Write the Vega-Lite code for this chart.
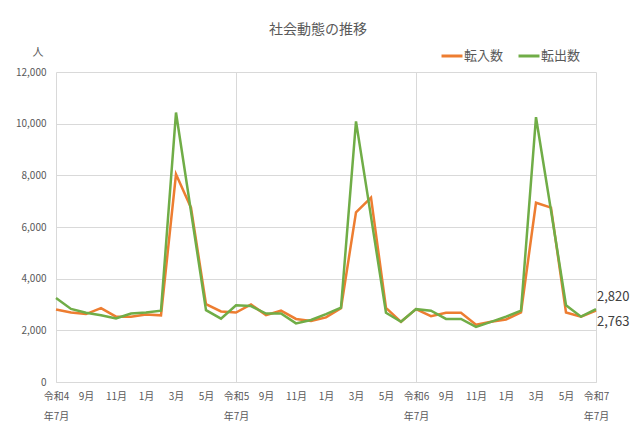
{
  "$schema": "https://vega.github.io/schema/vega-lite/v6.json",
  "autosize": {"type": "none"},
  "padding": {"left": 56, "top": 72, "right": 40, "bottom": 58},
  "width": 540,
  "height": 310,
  "background": "white",
  "title": {
    "text": "社会動態の推移",
    "anchor": "middle",
    "dx": -8,
    "fontSize": 14,
    "fontWeight": "normal",
    "color": "#595959",
    "font": "Noto Sans CJK JP",
    "offset": 7
  },
  "data": {
    "values": [
      {"月": "2022-07", "転入数": 2810, "転出数": 3250},
      {"月": "2022-08", "転入数": 2690, "転出数": 2830},
      {"月": "2022-09", "転入数": 2630, "転出数": 2680},
      {"月": "2022-10", "転入数": 2860, "転出数": 2580},
      {"月": "2022-11", "転入数": 2530, "転出数": 2460},
      {"月": "2022-12", "転入数": 2530, "転出数": 2650},
      {"月": "2023-01", "転入数": 2610, "転出数": 2690},
      {"月": "2023-02", "転入数": 2580, "転出数": 2760},
      {"月": "2023-03", "転入数": 8040, "転出数": 10430},
      {"月": "2023-04", "転入数": 6750, "転出数": 6600},
      {"月": "2023-05", "転入数": 3010, "転出数": 2780},
      {"月": "2023-06", "転入数": 2730, "転出数": 2450},
      {"月": "2023-07", "転入数": 2690, "転出数": 2970},
      {"月": "2023-08", "転入数": 3000, "転出数": 2940},
      {"月": "2023-09", "転入数": 2590, "転出数": 2650},
      {"月": "2023-10", "転入数": 2760, "転出数": 2650},
      {"月": "2023-11", "転入数": 2440, "転出数": 2270},
      {"月": "2023-12", "転入数": 2360, "転出数": 2400},
      {"月": "2024-01", "転入数": 2500, "転出数": 2630},
      {"月": "2024-02", "転入数": 2860, "転出数": 2880},
      {"月": "2024-03", "転入数": 6570, "転出数": 10090},
      {"月": "2024-04", "転入数": 7140, "転出数": 6400},
      {"月": "2024-05", "転入数": 2870, "転出数": 2680},
      {"月": "2024-06", "転入数": 2330, "転出数": 2330},
      {"月": "2024-07", "転入数": 2820, "転出数": 2820},
      {"月": "2024-08", "転入数": 2550, "転出数": 2760},
      {"月": "2024-09", "転入数": 2680, "転出数": 2440},
      {"月": "2024-10", "転入数": 2680, "転出数": 2440},
      {"月": "2024-11", "転入数": 2220, "転出数": 2130},
      {"月": "2024-12", "転入数": 2330, "転出数": 2330},
      {"月": "2025-01", "転入数": 2420, "転出数": 2530},
      {"月": "2025-02", "転入数": 2690, "転出数": 2760},
      {"月": "2025-03", "転入数": 6940, "転出数": 10250},
      {"月": "2025-04", "転入数": 6750, "転出数": 6640},
      {"月": "2025-05", "転入数": 2690, "転出数": 2970},
      {"月": "2025-06", "転入数": 2530, "転出数": 2530},
      {"月": "2025-07", "転入数": 2763, "転出数": 2820}
    ]
  },
  "transform": [
    {"fold": ["転入数", "転出数"], "as": ["区分", "人数"]}
  ],
  "encoding": {
    "x": {
      "field": "月",
      "type": "ordinal",
      "sort": null,
      "scale": {"type": "point", "padding": 0},
      "axis": {
        "title": null,
        "values": ["2022-07", "2022-09", "2022-11", "2023-01", "2023-03", "2023-05",
                   "2023-07", "2023-09", "2023-11", "2024-01", "2024-03", "2024-05",
                   "2024-07", "2024-09", "2024-11", "2025-01", "2025-03", "2025-05", "2025-07"],
        "labelExpr": "slice(datum.value, 5) == '07' ? ['令和' + (toNumber(slice(datum.value, 0, 4)) - 2018), '年7月'] : toNumber(slice(datum.value, 5)) + '月'",
        "labelAngle": 0,
        "labelPadding": 9,
        "labelLineHeight": 20,
        "labelBaseline": "top",
        "ticks": false,
        "domainColor": "#d9d9d9",
        "grid": true,
        "gridColor": "#d9d9d9",
        "gridOpacity": {"condition": {"test": "slice(datum.value, 5) == '07'", "value": 1}, "value": 0}
      }
    },
    "y": {
      "field": "人数",
      "type": "quantitative",
      "scale": {"domain": [0, 12000]},
      "axis": {
        "values": [0, 2000, 4000, 6000, 8000, 10000, 12000],
        "format": ",.0f",
        "domain": false,
        "ticks": false,
        "labelPadding": 10,
        "gridColor": "#d9d9d9",
        "title": "人",
        "titleAngle": 0,
        "titleX": -13,
        "titleY": -20,
        "titleAlign": "right",
        "titleBaseline": "middle",
        "titleFontWeight": "normal",
        "titleFontSize": 11,
        "titleColor": "#595959"
      }
    },
    "color": {
      "field": "区分",
      "type": "nominal",
      "scale": {"domain": ["転入数", "転出数"], "range": ["#ED7D31", "#70AD47"]},
      "legend": {
        "title": null,
        "orient": "none",
        "legendX": 384,
        "legendY": -28,
        "direction": "horizontal",
        "symbolType": "stroke",
        "symbolSize": 440,
        "symbolStrokeWidth": 3,
        "labelFontSize": 13,
        "labelColor": "#595959",
        "labelOffset": 0,
        "columnPadding": 8
      }
    }
  },
  "layer": [
    {
      "mark": {"type": "line", "strokeWidth": 2.5}
    },
    {
      "transform": [{"filter": "datum['月'] == '2025-07' && datum['区分'] == '転出数'"}],
      "mark": {"type": "text", "align": "left", "dx": 1, "dy": -12, "fontSize": 13},
      "encoding": {
        "text": {"field": "人数", "type": "quantitative", "format": ","},
        "color": {"value": "#404040"}
      }
    },
    {
      "transform": [{"filter": "datum['月'] == '2025-07' && datum['区分'] == '転入数'"}],
      "mark": {"type": "text", "align": "left", "dx": 1, "dy": 11, "fontSize": 13},
      "encoding": {
        "text": {"field": "人数", "type": "quantitative", "format": ","},
        "color": {"value": "#404040"}
      }
    }
  ],
  "config": {
    "font": "Noto Sans CJK JP",
    "view": {"stroke": null},
    "axis": {"labelFontSize": 10, "labelColor": "#595959", "labelFont": "Noto Sans CJK JP"}
  }
}
